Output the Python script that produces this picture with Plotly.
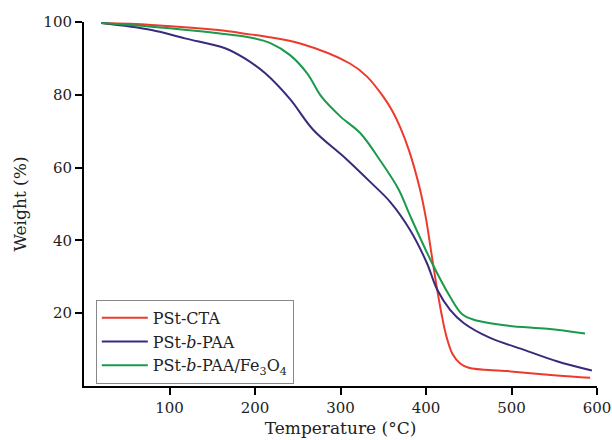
import plotly.graph_objects as go

# PSt-CTA
x_cta = [20, 79, 157, 194, 212, 253, 311, 331, 350, 360, 370, 380, 393, 400, 406, 412, 418, 424, 431, 440, 450, 495, 553, 592]
y_cta = [99.7, 99.2, 97.8, 96.6, 96.0, 94.1, 88.6, 85.0, 79.5, 75.8, 71.0, 64.8, 54.0, 46.0, 37.0, 28.0, 20.0, 13.5, 8.8, 6.2, 5.0, 4.1, 2.9, 2.25]

# PSt-b-PAA
x_paa = [20, 79, 118, 165, 188, 212, 241, 268, 307, 335, 358, 381, 401, 413, 428, 444, 475, 514, 553, 594]
y_paa = [99.7, 97.8, 95.5, 92.8, 90.0, 85.9, 78.8, 70.4, 62.3, 56.0, 50.6, 43.0, 33.8, 26.5, 21.0, 17.3, 13.2, 10.0, 6.8, 4.25]

# PSt-b-PAA/Fe3O4
x_fe = [20, 79, 157, 196, 218, 241, 261, 278, 300, 323, 346, 368, 381, 407, 428, 442, 456, 495, 542, 586]
y_fe = [99.7, 98.7, 96.9, 95.7, 94.2, 90.9, 85.9, 79.4, 74.0, 69.5, 62.1, 54.0, 47.0, 33.8, 24.6, 19.8, 18.2, 16.6, 15.7, 14.4]

names = ["PSt-CTA", "PSt-<i>b</i>-PAA", "PSt-<i>b</i>-PAA/Fe<sub>3</sub>O<sub>4</sub>"]
colors = ["#EE3A2E", "#3B2A7C", "#1A9A4A"]

FONT = "DejaVu Serif"

fig = go.Figure()
for xs, ys, nm, c in zip([x_cta, x_paa, x_fe], [y_cta, y_paa, y_fe], names, colors):
    fig.add_trace(go.Scatter(x=xs, y=ys, mode="lines", name=nm,
                             line=dict(color=c, width=2, shape="spline", smoothing=1.0)))

fig.update_layout(
    width=612, height=440,
    margin=dict(l=84, r=15, t=22, b=54),
    plot_bgcolor="white", paper_bgcolor="white",
    font=dict(family=FONT, size=15, color="#222"),
    showlegend=True,
    legend=dict(x=0.023, y=0.237, xanchor="left", yanchor="top",
                bordercolor="#888", borderwidth=1, bgcolor="white",
                font=dict(family=FONT, size=16), tracegroupgap=0,
                itemwidth=46),
    xaxis=dict(range=[0, 600], tickvals=[100, 200, 300, 400, 500, 600],
               showline=True, linecolor="black", linewidth=2,
               ticks="outside", ticklen=7, tickwidth=1.5, tickcolor="black",
               tickfont=dict(size=15), ticklabeloverflow="allow",
               showgrid=False, zeroline=False, automargin=False,
               title=dict(text="Temperature (°C)", font=dict(size=17), standoff=6)),
    yaxis=dict(range=[0, 100], tickvals=[20, 40, 60, 80, 100],
               showline=True, linecolor="black", linewidth=2,
               ticks="outside", ticklen=7, tickwidth=1.5, tickcolor="black",
               tickfont=dict(size=15),
               showgrid=False, zeroline=False, automargin=False,
               title=dict(text="Weight (%)", font=dict(size=17), standoff=12)),
)

fig.write_html("out.html")
